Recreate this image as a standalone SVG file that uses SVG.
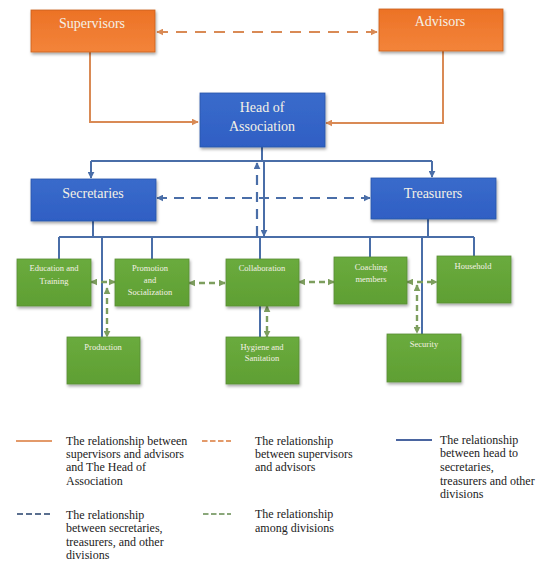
<svg xmlns="http://www.w3.org/2000/svg" width="544" height="570" viewBox="0 0 544 570">
<style>
.box{stroke-width:0.8}
.or{fill:url(#gOr);stroke:#c9601e}
.bl{fill:url(#gBl);stroke:#2a55a8}
.gr{fill:url(#gGr);stroke:#5a8e36}
.t{font-family:'Liberation Serif','DejaVu Serif',serif;fill:#f4f1e6;text-anchor:middle}
.tb{font-size:14px}
.ts{font-size:8.5px}
.lg{font-family:'Liberation Serif','DejaVu Serif',serif;font-size:12px;fill:#222}
.co{fill:none;stroke:#d98a55;stroke-width:2}
.cod{fill:none;stroke:#d98a55;stroke-width:2;stroke-dasharray:11 8}
.cb{fill:none;stroke:#4a6ea8;stroke-width:2}
.cbd{fill:none;stroke:#4a6ea8;stroke-width:2.2;stroke-dasharray:10 7}
.cgd{fill:none;stroke:#7d9e5e;stroke-width:2.4;stroke-dasharray:6 4}
</style>
<defs>
<linearGradient id="gOr" x1="0" y1="0" x2="0" y2="1"><stop offset="0" stop-color="#ec7226"/><stop offset="1" stop-color="#f3843a"/></linearGradient>
<linearGradient id="gBl" x1="0" y1="0" x2="0" y2="1"><stop offset="0" stop-color="#3a6bcb"/><stop offset="1" stop-color="#2f5fc4"/></linearGradient>
<linearGradient id="gGr" x1="0" y1="0" x2="0" y2="1"><stop offset="0" stop-color="#6aab3d"/><stop offset="1" stop-color="#5f9f33"/></linearGradient>
<filter id="sh" x="-10%" y="-10%" width="130%" height="140%"><feDropShadow dx="1" dy="2" stdDeviation="1.5" flood-color="#000" flood-opacity="0.35"/></filter>
<marker id="aO" viewBox="0 0 10 10" refX="9" refY="5" markerWidth="7" markerHeight="7" markerUnits="userSpaceOnUse" orient="auto-start-reverse"><path d="M0,0 L10,5 L0,10 z" fill="#d98a55"/></marker>
<marker id="aB" viewBox="0 0 10 10" refX="9" refY="5" markerWidth="7" markerHeight="7" markerUnits="userSpaceOnUse" orient="auto-start-reverse"><path d="M0,0 L10,5 L0,10 z" fill="#4a6ea8"/></marker>
<marker id="aG" viewBox="0 0 10 10" refX="9" refY="5" markerWidth="7" markerHeight="7" markerUnits="userSpaceOnUse" orient="auto-start-reverse"><path d="M0,0 L10,5 L0,10 z" fill="#7d9e5e"/></marker>
</defs>
<rect width="544" height="570" fill="#ffffff"/>

<g id="connectors">
<path class="co" d="M90,52 V122 H198" marker-end="url(#aO)"/>
<path class="co" d="M443,51 V123 H326" marker-end="url(#aO)"/>
<path class="cod" d="M157,32 H377" marker-start="url(#aO)" marker-end="url(#aO)"/>
<path class="cb" d="M262,147 V161 M91,161 H432"/>
<path class="cb" d="M91,161 V178" marker-end="url(#aB)"/>
<path class="cb" d="M432,161 V177" marker-end="url(#aB)"/>
<path class="cbd" d="M157,198 H370" marker-start="url(#aB)" marker-end="url(#aB)"/>
<path class="cbd" d="M257,236 V163" marker-end="url(#aB)"/>
<path class="cb" d="M264,162 V236" marker-end="url(#aB)"/>
<path class="cb" d="M93,221 V237 M428,219 V237 M59,237 H474"/>
<path class="cb" d="M59,237 V259 M102,237 V337 M152,237 V259 M260,237 V259 M370,237 V257 M422,237 V334 M474,237 V256 M260,306 V337"/>
<path class="cgd" d="M91,282 H115" marker-start="url(#aG)" marker-end="url(#aG)"/>
<path class="cgd" d="M189,283 H225" marker-start="url(#aG)" marker-end="url(#aG)"/>
<path class="cgd" d="M299,282 H334" marker-start="url(#aG)" marker-end="url(#aG)"/>
<path class="cgd" d="M407,282 H437" marker-start="url(#aG)" marker-end="url(#aG)"/>
<path class="cgd" d="M107,288 V337" marker-start="url(#aG)" marker-end="url(#aG)"/>
<path class="cgd" d="M267,306 V337" marker-start="url(#aG)" marker-end="url(#aG)"/>
<path class="cgd" d="M417,285 V333" marker-start="url(#aG)" marker-end="url(#aG)"/>
</g>

<g id="supervisors"><rect class="box or" x="31" y="10" width="124" height="42" filter="url(#sh)"/><text class="t tb" x="92" y="28">Supervisors</text></g>
<g id="advisors"><rect class="box or" x="379" y="9" width="124" height="42" filter="url(#sh)"/><text class="t tb" x="440" y="26">Advisors</text></g>
<g id="head"><rect class="box bl" x="200" y="93" width="125" height="54" filter="url(#sh)"/><text class="t tb" x="262" y="112">Head of</text><text class="t tb" x="262" y="131">Association</text></g>
<g id="secretaries"><rect class="box bl" x="31" y="179" width="125" height="42" filter="url(#sh)"/><text class="t tb" x="93" y="198">Secretaries</text></g>
<g id="treasurers"><rect class="box bl" x="371" y="178" width="125" height="41" filter="url(#sh)"/><text class="t tb" x="433" y="198">Treasurers</text></g>

<g id="education"><rect class="box gr" x="17" y="259" width="74" height="47" filter="url(#sh)"/><text class="t ts" x="54" y="271">Education and</text><text class="t ts" x="54" y="284">Training</text></g>
<g id="promotion"><rect class="box gr" x="115" y="259" width="74" height="47" filter="url(#sh)"/><text class="t ts" x="150" y="271">Promotion</text><text class="t ts" x="150" y="283">and</text><text class="t ts" x="150" y="295">Socialization</text></g>
<g id="collaboration"><rect class="box gr" x="226" y="259" width="73" height="47" filter="url(#sh)"/><text class="t ts" x="262" y="271">Collaboration</text></g>
<g id="coaching"><rect class="box gr" x="334" y="257" width="73" height="47" filter="url(#sh)"/><text class="t ts" x="371" y="270">Coaching</text><text class="t ts" x="371" y="282">members</text></g>
<g id="household"><rect class="box gr" x="437" y="256" width="74" height="47" filter="url(#sh)"/><text class="t ts" x="473" y="269">Household</text></g>
<g id="production"><rect class="box gr" x="67" y="337" width="73" height="47" filter="url(#sh)"/><text class="t ts" x="103" y="350">Production</text></g>
<g id="hygiene"><rect class="box gr" x="226" y="337" width="73" height="47" filter="url(#sh)"/><text class="t ts" x="262" y="350">Hygiene and</text><text class="t ts" x="262" y="361">Sanitation</text></g>
<g id="security"><rect class="box gr" x="387" y="334" width="74" height="48" filter="url(#sh)"/><text class="t ts" x="424" y="347">Security</text></g>

<g id="legend">
<line x1="16" y1="441" x2="52" y2="441" stroke="#e39a6a" stroke-width="2"/>
<text class="lg" x="66" y="445">The relationship between</text>
<text class="lg" x="66" y="458">supervisors and advisors</text>
<text class="lg" x="66" y="471">and The Head of</text>
<text class="lg" x="66" y="485">Association</text>
<line x1="202" y1="441" x2="231" y2="441" stroke="#e39a6a" stroke-width="2" stroke-dasharray="5.5 2.5"/>
<text class="lg" x="255" y="445">The relationship</text>
<text class="lg" x="255" y="458">between supervisors</text>
<text class="lg" x="255" y="471">and advisors</text>
<line x1="396" y1="440" x2="432" y2="440" stroke="#4a65a0" stroke-width="2"/>
<text class="lg" x="440" y="444">The relationship</text>
<text class="lg" x="440" y="457">between head to</text>
<text class="lg" x="440" y="471">secretaries,</text>
<text class="lg" x="440" y="485">treasurers and other</text>
<text class="lg" x="440" y="498">divisions</text>
<line x1="17" y1="514" x2="52" y2="514" stroke="#5a6f8f" stroke-width="2" stroke-dasharray="6 3"/>
<text class="lg" x="66" y="519">The relationship</text>
<text class="lg" x="66" y="532">between secretaries,</text>
<text class="lg" x="66" y="546">treasurers, and other</text>
<text class="lg" x="66" y="559">divisions</text>
<line x1="203" y1="514" x2="231" y2="514" stroke="#8aa77a" stroke-width="2" stroke-dasharray="5.5 2.5"/>
<text class="lg" x="255" y="518">The relationship</text>
<text class="lg" x="255" y="532">among divisions</text>
</g>
</svg>
